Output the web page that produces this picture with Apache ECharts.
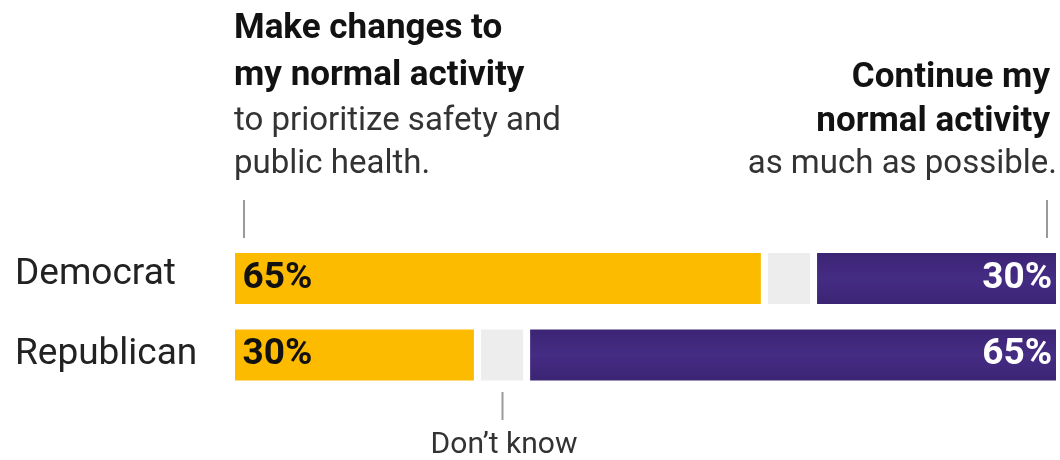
<!DOCTYPE html>
<html>
<head>
<meta charset="utf-8">
<script src="https://cdn.jsdelivr.net/npm/echarts@6/dist/echarts.min.js"></script>
<style>
html,body{margin:0;padding:0;background:#fff;}
#chart{width:1060px;height:460px;}
</style>
</head>
<body>
<div id="chart"></div>
<script>
const categories = ['Democrat', 'Republican'];
const changeValues = [65, 30];
const dontKnowValues = [6, 6];
const continueValues = [30, 65];
const leftHeadBold = ['Make changes to', 'my normal activity'];
const leftHeadSub = ['to prioritize safety and', 'public health.'];
const rightHeadBold = ['Continue my', 'normal activity'];
const rightHeadSub = ['as much as possible.'];
const dontKnowLabel = 'Don\u2019t know';

const FONT = 'Roboto';
const chart = echarts.init(document.getElementById('chart'), null, {renderer: 'canvas'});

const purple = new echarts.graphic.LinearGradient(0, 0, 0, 1, [
  {offset: 0, color: '#3b2372'},
  {offset: 0.5, color: '#452c84'},
  {offset: 1, color: '#3b2372'}
]);

function barSeries(name, data, color, label) {
  return {
    type: 'bar', name: name, stack: 'total', data: data,
    barWidth: 58,
    itemStyle: {color: color, borderColor: '#ffffff', borderWidth: 3.5},
    label: label || {show: false},
    emphasis: {disabled: true},
    animation: false
  };
}

const option = {
  animation: false,
  grid: {left: 231.5, right: 0.5, top: 240.25, bottom: 66.75, containLabel: false},
  xAxis: {type: 'value', min: 0, max: 101, show: false},
  yAxis: {
    type: 'category', data: categories, inverse: true,
    axisLine: {show: false}, axisTick: {show: false}, splitLine: {show: false},
    axisLabel: {
      align: 'left', margin: 216.5, color: '#222', fontFamily: FONT, fontSize: 37,
      formatter: (v, i) => i === 0 ? '{a|' + v + '}' : '{b|' + v + '}',
      rich: {
        a: {fontFamily: FONT, fontSize: 37, color: '#222', padding: [0, 0, 8, 0]},
        b: {fontFamily: FONT, fontSize: 37, color: '#222', padding: [0, 0, 0, 0]}
      }
    }
  },
  series: [
    barSeries('Make changes', changeValues, '#fdbb00', {
      show: true, position: 'insideLeft', distance: 11, formatter: '{c}%',
      color: '#111', fontFamily: FONT, fontWeight: 'bold', fontSize: 37
    }),
    barSeries('Don\u2019t know', dontKnowValues, '#ededed'),
    barSeries('Continue', continueValues, purple, {
      show: true, position: 'insideRight', distance: 7.5, formatter: '{c}%',
      color: '#ffffff', fontFamily: FONT, fontWeight: 'bold', fontSize: 37
    })
  ]
};
chart.setOption(option);

// annotations
const g = [];
function txt(x, y, s, size, weight, color, align) {
  g.push({type: 'text', x: x, y: y, silent: true,
    style: {text: s, fontFamily: FONT, fontSize: size, fontWeight: weight, fill: color,
      align: align, verticalAlign: 'middle'}});
}
function vline(x, y1, y2) {
  g.push({type: 'line', silent: true, shape: {x1: x, y1: y1, x2: x, y2: y2},
    style: {stroke: '#9a9a9a', lineWidth: 2}});
}
const boldBase = [40, 87];
const subBase = [132, 175];
leftHeadBold.forEach((s, i) => txt(234, boldBase[i] - 11, s, 35, 'bold', '#121212', 'left'));
leftHeadSub.forEach((s, i) => txt(234, subBase[i] - 10, s, 33, 'normal', '#333', 'left'));
const rBoldBase = [89, 133];
rightHeadBold.forEach((s, i) => txt(1050, rBoldBase[i] - 11, s, 35, 'bold', '#121212', 'right'));
rightHeadSub.forEach((s, i) => txt(1057, 175 - 10, s, 33, 'normal', '#333', 'right'));
vline(244, 200, 238);
vline(1047, 200, 238);
// Don't know marker at centre of Republican grey segment
const dkCenter = changeValues[1] + dontKnowValues[1] / 2;
const dkX = chart.convertToPixel({xAxisIndex: 0}, dkCenter);
vline(Math.round(dkX) + 0.5, 392, 420);
txt(dkX + 2, 445, dontKnowLabel, 30, 'normal', '#333', 'center');

chart.setOption({graphic: g});
</script>
</body>
</html>
